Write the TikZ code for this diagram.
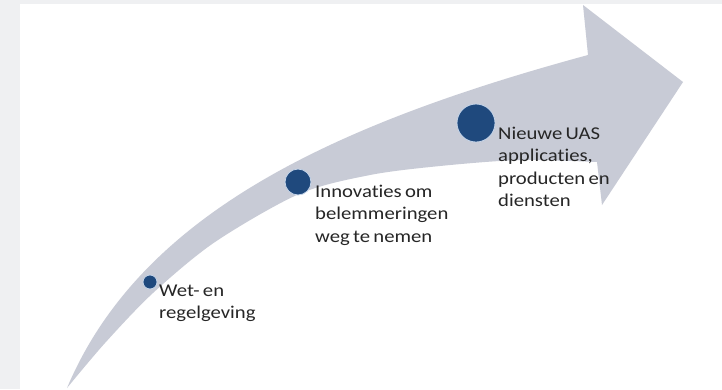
\documentclass[tikz,border=0pt]{standalone}
\usepackage{fontspec}
\setmainfont{Carlito}[FakeStretch=1.15,WordSpace=0.7,Ligatures=NoCommon]
\definecolor{bandgray}{HTML}{C8CBD6}
\definecolor{dotblue}{HTML}{1F497D}
\definecolor{dotrim}{HTML}{C5D5EA}
\definecolor{pagegray}{HTML}{EFF0F2}
\definecolor{txt}{HTML}{262626}
\begin{document}
\begin{tikzpicture}[x=1pt,y=-1pt,
  dot/.style={circle,fill=dotblue,draw=dotrim,line width=0.8pt,inner sep=0pt},
  lbl/.style={anchor=base west,align=left,inner sep=0pt,text=txt,font=\fontsize{18}{22.5}\selectfont}]
\fill[pagegray] (0,0) rectangle (722,389);
\fill[white] (20,4) rectangle (722,389);
\useasboundingbox (0,0) rectangle (722,389);
\fill[bandgray] (67,388) .. controls (140,215) and (330,125) .. (588,55)
  -- (583,5) -- (683,82) -- (602,205) -- (597,162)
  -- plot[smooth] coordinates {(597,162) (520,160) (440,166) (370,175) (299,194) (215,242) (153,293) (105,343) (67,388)} -- cycle;
\node[dot,minimum size=14pt] (d1) at (150,282) {};
\node[dot,minimum size=26pt] (d2) at (298,182) {};
\node[dot,minimum size=38pt] (d3) at (476,123) {};
\node[lbl] (t1) at (159,318.5) {Wet- en\\regelgeving};
\node[lbl] (t2) at (315,242) {Innovaties om\\belemmeringen\\weg te nemen};
\node[lbl] (t3) at (498,206.5) {Nieuwe UAS\\applicaties,\\producten en\\diensten};
\end{tikzpicture}
\end{document}
